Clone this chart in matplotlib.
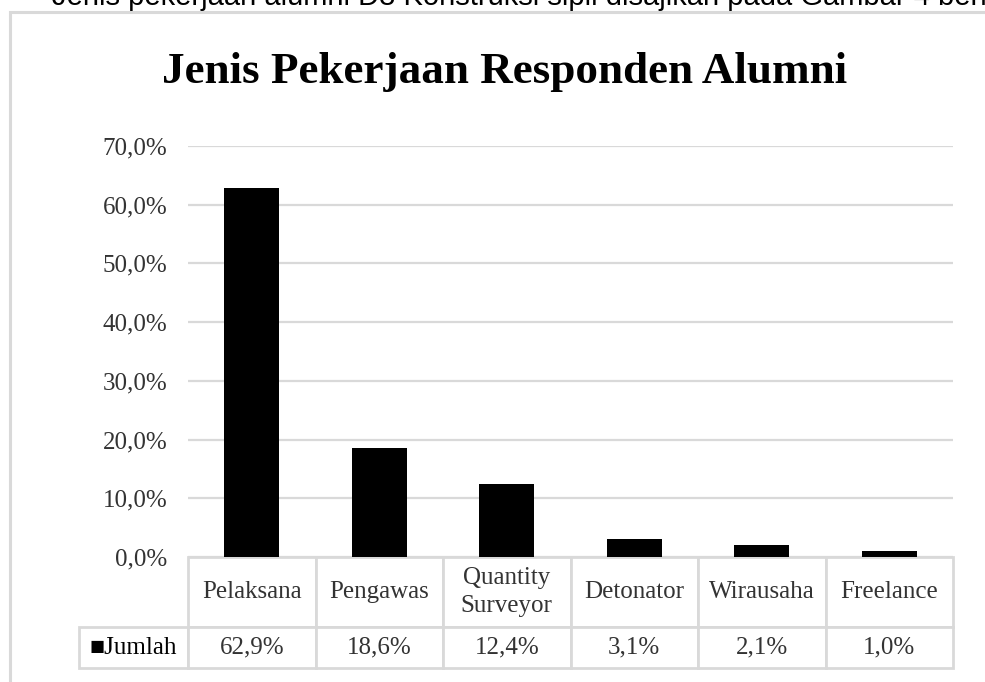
import matplotlib.pyplot as plt
from matplotlib.patches import Rectangle
from matplotlib.table import Table
from matplotlib.ticker import FuncFormatter

# data
categories = ["Pelaksana", "Pengawas", "Quantity\nSurveyor", "Detonator", "Wirausaha", "Freelance"]
values = [62.9, 18.6, 12.4, 3.1, 2.1, 1.0]
series_name = "Jumlah"
title = "Jenis Pekerjaan Responden Alumni"
caption = "Jenis pekerjaan alumni D3 Konstruksi sipil disajikan pada Gambar 4 berikut"

W, H = 985, 682
serif = ["Liberation Serif", "DejaVu Serif"]
grid_col = "#d9d9d9"
txt_col = "#333333"

fig = plt.figure(figsize=(W / 100, H / 100), dpi=100)

# chart frame (only left and top edges fall inside the picture)
fig.patches.append(Rectangle((9.5 / W, -0.2), 1.5, 1.2 - 11.5 / H, transform=fig.transFigure,
                             fill=False, edgecolor=grid_col, linewidth=2.2))

# caption of the page, cut off at the top like in the source
fig.text(52 / W, 1 - 5 / H, caption, fontsize=21, family="Liberation Sans",
         ha="left", va="baseline", color="black")

fig.text(505 / W, 1 - 83 / H, title, fontsize=32.5, fontweight="bold", family=serif,
         ha="center", va="baseline", color="black")

ax_l, ax_r, ax_b, ax_t = 188, 953, 557, 146
ax = fig.add_axes([ax_l / W, 1 - ax_b / H, (ax_r - ax_l) / W, (ax_b - ax_t) / H])

x = range(len(values))
ax.bar(x, values, width=0.43, color="black", zorder=3)
ax.set_xlim(-0.5, len(values) - 0.5)
ax.set_ylim(0, 70)
ax.set_yticks(range(0, 71, 10))
ax.yaxis.set_major_formatter(FuncFormatter(lambda v, p: f"{v:.1f}%".replace(".", ",")))
ax.grid(axis="y", color=grid_col, linewidth=1.6, zorder=0)
ax.set_xticks([])
ax.tick_params(axis="y", length=0, pad=15, labelsize=18, labelcolor=txt_col)
for lab in ax.get_yticklabels():
    lab.set_fontfamily(serif)
for s in ax.spines.values():
    s.set_visible(False)

# data table under the chart, Excel style (sizes in axes units)
aw, ah = ax_r - ax_l, ax_b - ax_t
head_h, row_h, lab_w = 70 / ah, 41 / ah, 109 / aw
col_w = 1 / len(values)
tbl = Table(ax, bbox=[0, -(head_h + row_h), 1, head_h + row_h])
for j, cat in enumerate(categories):
    tbl.add_cell(0, j, col_w, head_h, text=cat, loc="center")
    tbl.add_cell(1, j, col_w, row_h, text=f"{values[j]:.1f}%".replace(".", ","), loc="center")
tbl.add_cell(1, -1, lab_w, row_h, text="\u25a0" + series_name, loc="center")
tbl.auto_set_font_size(False)
tbl.set_fontsize(18)
for (r, c), cell in tbl.get_celld().items():
    cell.set_edgecolor(grid_col)
    cell.set_linewidth(2)
    t = cell.get_text()
    t.set_fontfamily(serif + ["DejaVu Sans"])
    t.set_color(txt_col)
    t.set_linespacing(1.3)
tbl.get_celld()[(1, -1)].get_text().set_color("black")
ax.add_table(tbl)

fig.savefig("out.png", dpi=100)
